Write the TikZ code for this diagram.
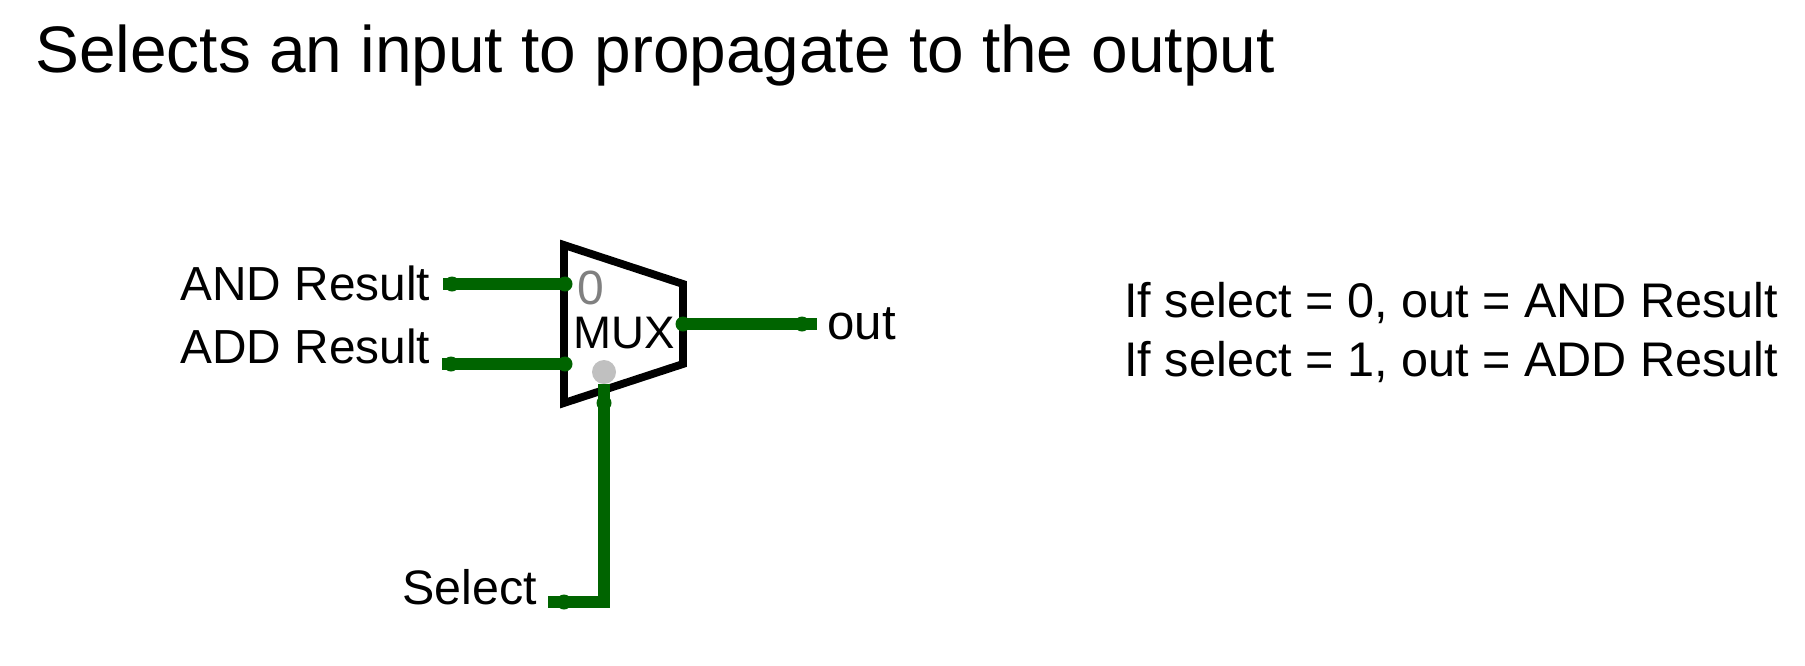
\documentclass[tikz,border=0pt]{standalone}
\usepackage{fontspec}
\setmainfont{Liberation Sans}
\usepackage{tikz}
\usetikzlibrary{positioning}
\definecolor{wiregreen}{HTML}{006400}
\definecolor{portgray}{HTML}{C0C0C0}
\definecolor{zerogray}{HTML}{808080}

\begin{document}
\begin{tikzpicture}[x=0.5pt,y=-0.5pt]

    \useasboundingbox (0,0) rectangle (1805,665);

    % Styles
    \tikzstyle{wire} = [draw=wiregreen, line width=6.2pt]
    \tikzstyle{pin} = [circle, fill=wiregreen, inner sep=0pt, minimum size=7.5pt]
    \tikzstyle{port} = [circle, fill=portgray, inner sep=0pt, minimum size=12pt]
    \tikzstyle{txt} = [anchor=base west, inner sep=0pt, font=\fontsize{23.9}{28}\selectfont]

    % Title
    \node[txt, font=\fontsize{32.88}{38}\selectfont] (title) at (35,72) {Selects an input to propagate to the output};

    % Mux body
    \draw[line width=3.9pt, fill=white] (564,245) -- (683,284) -- (683,364) -- (564,403) -- cycle;
    \node[txt, font=\fontsize{24}{28}\selectfont, text=zerogray] (zero) at (577,304) {0};
    \node[txt, font=\fontsize{22.8}{26}\selectfont] (mux) at (573,348) {MUX};

    % Input labels
    \node[txt] (andlabel) at (180,300) {AND Result};
    \node[txt] (addlabel) at (180,363) {ADD Result};
    \node[txt, font=\fontsize{24.2}{28}\selectfont] (sellabel) at (402,604) {Select};
    \node[txt, font=\fontsize{24.6}{28}\selectfont] (outlabel) at (827,339) {out};

    % Free wire ends
    \coordinate (addend) at (442,364);
    \coordinate (andend) at (443,284);
    \coordinate (selend) at (548,602);
    \coordinate (outend) at (817,324);

    % Pins
    \node[pin] (andpin) at (565,284) {};
    \node[pin] (addpin) at (565,364) {};
    \node[pin] (anddot) at (452,284) {};
    \node[pin] (adddot) at (451,364) {};
    \node[pin] (outpin) at (683,324) {};
    \node[pin] (outdot) at (802,324) {};
    \node[pin] (seldot) at (564,602) {};
    \node[pin] (selpin) at (604,403) {};
    \node[port] (selport) at (604,372) {};

    % Wires
    \draw[wire] (andend) -- (andpin.center);
    \draw[wire] (addend) -- (addpin.center);
    \draw[wire] (outpin.center) -- (outend);
    \draw[wire] (selend) -| (selport.south);

    % Truth text
    \node[txt, font=\fontsize{24.3}{28}\selectfont] (ifzero) at (1124,317) {If select = 0, out = AND Result};
    \node[txt, font=\fontsize{24.3}{28}\selectfont] (ifone) at (1124,376) {If select = 1, out = ADD Result};

\end{tikzpicture}
\end{document}
